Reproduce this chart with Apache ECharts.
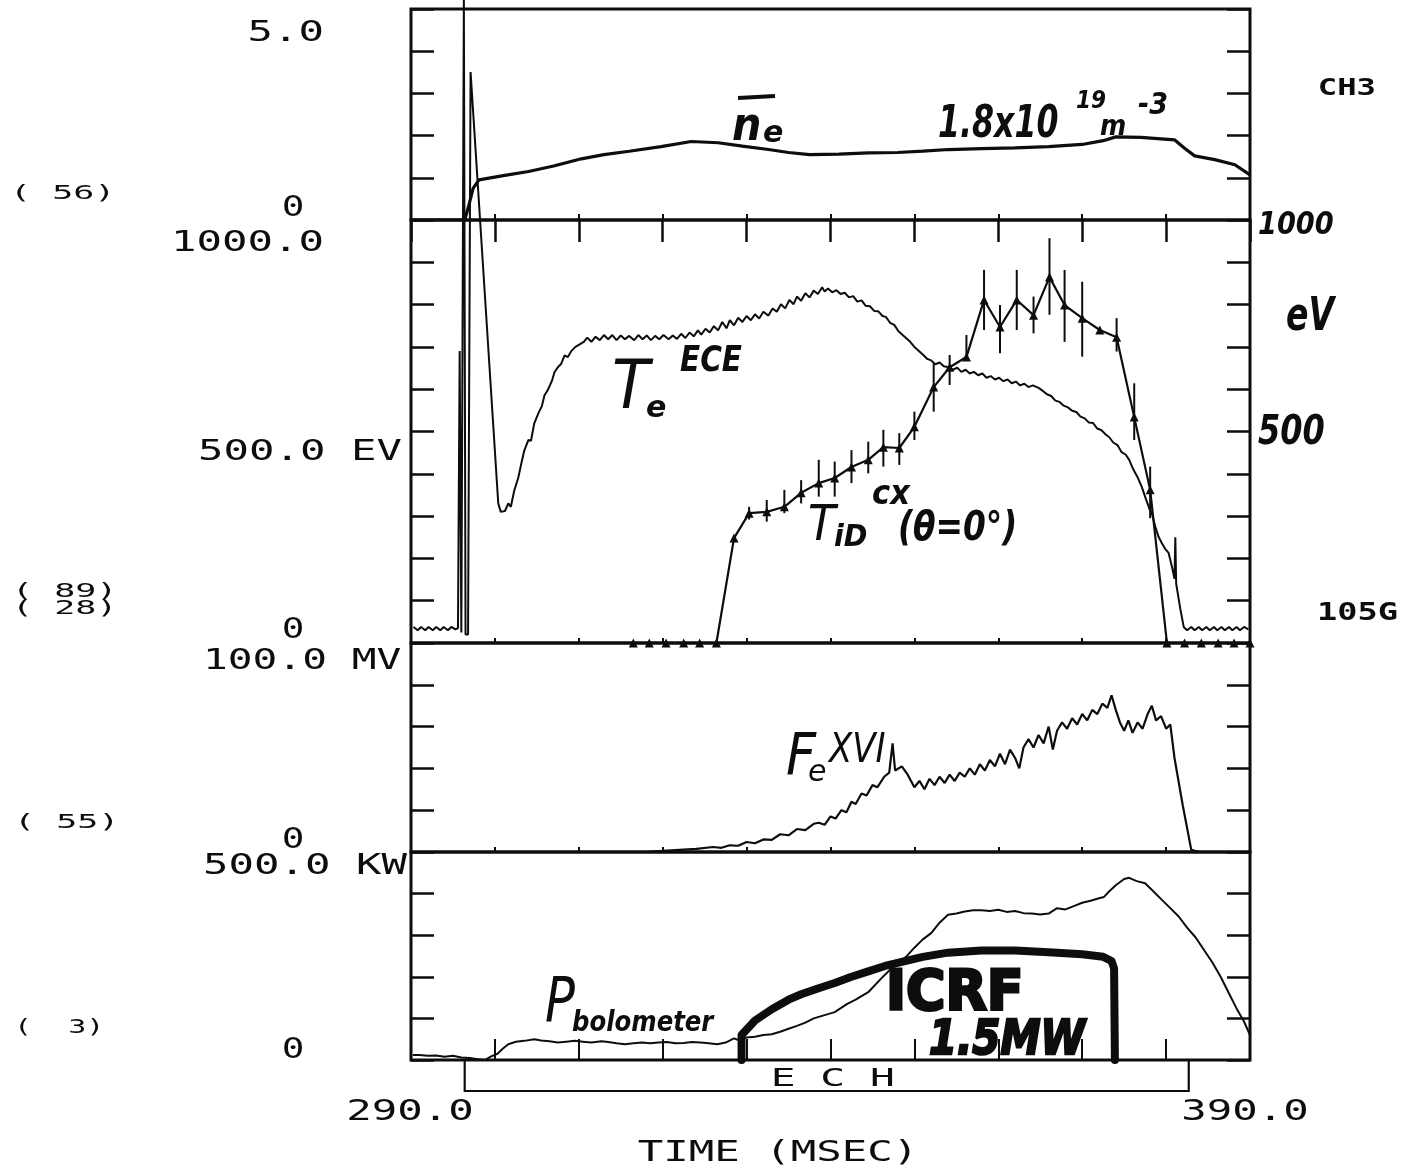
<!DOCTYPE html>
<html>
<head>
<meta charset="utf-8">
<script src="https://cdn.jsdelivr.net/npm/echarts/dist/echarts.min.js"></script>
<style>
  html, body { margin: 0; background: #fff; }
  #chart { width: 1407px; height: 1172px; }
</style>
</head>
<body>
<div id="chart"></div>
<script>
/* ── data (time in ms, values in panel units) ── */
const timeRange = [290, 390];

// panel 1: line-averaged density, 0..5
const neData = [[290,0],[296.4,0],[296.9,0.35],[297.4,0.75],[298.1,0.95],[301,1.05],[304,1.15],[307,1.28],
  [310.3,1.45],[313,1.55],[316,1.63],[319.8,1.74],[323.4,1.86],[326.6,1.83],[329.5,1.75],[332.6,1.67],
  [335,1.6],[337.5,1.55],[341,1.56],[344.5,1.59],[348,1.6],[351,1.63],[354.1,1.67],[358,1.69],[362,1.71],
  [366,1.74],[370,1.79],[372.5,1.88],[374,1.97],[377,1.96],[381,1.9],[382.2,1.7],[383.4,1.52],
  [385.8,1.43],[388.2,1.31],[390,1.07]];

// panel 2: Te (ECE), eV
const teEce = [[290.3,38],[290.8,30],[291.2,38],[291.7,30],[292.1,38],[292.6,30],[293.0,38],[293.5,30],
  [293.9,38],[294.4,30],[294.8,38],[295.3,32],[295.6,35],[295.8,690],[296.0,25],[296.3,1520],[296.5,20],
  [296.8,20],[297.1,1350],[300.4,330],[300.7,310],[301.2,312],[301.6,330],[301.9,322],[302.3,360],
  [302.8,392],[303.1,420],[303.5,455],[304.0,480],[304.3,478],[304.7,520],[305.2,544],[305.6,560],
  [305.9,585],[306.3,598],[306.8,620],[307.1,640],[307.5,652],[307.9,660],[308.3,680],[308.7,676],
  [309.1,690],[309.6,700],[310.1,706],[310.6,712],[311.0,722],[311.5,712],[312.0,724],[312.5,716],
  [313.0,728],[313.5,718],[314.0,728],[314.5,716],[315.0,727],[315.5,718],[316.0,726],[316.6,716],
  [317.1,728],[317.6,718],[318.1,727],[318.6,716],[319.1,726],[319.6,718],[320.1,728],[320.7,718],
  [321.2,727],[321.7,719],[322.2,731],[322.7,721],[323.2,734],[323.7,725],[324.2,739],[324.6,729],
  [325.1,743],[325.6,734],[326.1,749],[326.6,739],[327.1,759],[327.6,744],[328.0,763],[328.5,751],
  [329.0,769],[329.5,759],[330.0,773],[330.5,763],[331.0,777],[331.5,767],[332.0,783],[332.6,774],
  [333.1,791],[333.6,783],[334.1,801],[334.6,791],[335.1,811],[335.6,801],[336.0,819],[336.5,809],
  [337.0,827],[337.5,817],[338.0,833],[338.5,825],[339.0,841],[339.3,831],[339.7,838],[340.2,829],
  [340.7,834],[341.2,825],[341.7,828],[342.2,817],[342.7,820],[343.2,807],[343.7,810],[344.2,797],
  [344.7,796],[345.2,785],[345.7,784],[346.2,773],[346.6,771],[347.1,757],[347.6,752],[348.1,737],
  [348.5,730],[349.0,721],[349.5,712],[350.0,700],[350.5,691],[351.0,682],[351.5,672],[352.0,668],
  [352.5,659],[353.0,663],[353.5,654],[354.1,652],[354.6,646],[355.1,651],[355.6,641],[356.1,646],
  [356.6,637],[357.1,641],[357.6,633],[358.1,637],[358.6,627],[359.1,631],[359.6,623],[360.1,627],
  [360.6,619],[361.1,623],[361.6,614],[362.1,618],[362.6,609],[363.1,613],[363.6,605],[364.1,609],
  [364.8,603],[365.3,596],[365.8,588],[366.3,584],[366.8,573],[367.3,570],[367.8,561],[368.3,557],
  [368.8,549],[369.3,546],[369.8,535],[370.3,531],[370.8,521],[371.3,520],[371.8,507],[372.3,503],
  [372.8,493],[373.2,487],[373.7,474],[374.2,468],[374.7,451],[375.2,445],[375.6,433],[376.1,410],
  [376.6,392],[377.1,369],[377.6,340],[378.0,318],[378.3,307],[378.7,276],[379.1,251],[379.5,236],
  [379.9,222],[380.3,213],[380.7,180],[381.0,152],[381.1,250],[381.2,140],[381.7,80],[382.1,38],
  [382.5,30],[383.0,38],[383.4,30],[383.9,38],[384.3,30],[384.8,38],[385.2,30],[385.7,38],[386.1,30],
  [386.6,38],[387.0,30],[387.5,38],[387.9,30],[388.4,38],[388.8,30],[389.3,38],[389.8,32]];

// panel 2: Ti (charge exchange), eV, with error bars
const tiTime  = [316.5,318.4,320.4,322.5,324.4,326.4,328.5,330.3,332.4,334.5,336.5,338.6,340.5,342.5,
  344.5,346.3,348.2,350.0,352.3,354.2,356.2,358.3,360.2,362.2,364.2,366.1,367.9,370.0,372.1,374.1,
  376.2,378.1,380.1,382.2,384.2,386.2,388.1,390.0];
const tiValue = [0,0,0,0,0,0,248,307,310,322,355,378,390,416,433,463,461,511,605,652,676,811,747,811,
  775,865,799,768,740,723,534,362,0,0,0,0,0,0];
const tiLow   = [0,0,0,0,0,0,248,292,287,307,330,346,346,378,401,417,421,480,547,610,669,740,685,740,
  732,776,712,677,740,689,480,295,0,0,0,0,0,0];
const tiHigh  = [0,0,0,0,0,0,248,322,338,362,385,433,429,456,476,504,496,547,661,681,728,882,799,882,
  819,957,882,854,740,768,614,417,0,0,0,0,0,0];

// panel 3: Fe XVI, mV
const feData = [[290,0],[318,0],[320,0.5],[322,1],[324,1.5],[326,2.4],[327,2],[328,3.2],[329,3],
  [330,4.8],[331,4.2],[332,6],[333,5.8],[334,8.5],[335,8],[336,11],[337,10.5],[338,13.5],[338.6,14],
  [339.3,13],[340,17],[340.6,16],[341.3,20],[341.9,19],[342.5,24],[343,23],[343.7,28],[344.3,27],
  [345,32],[345.6,31],[346.4,36],[347,38],[347.4,52],[347.7,39],[348.5,41],[349.2,37],[350,31],
  [350.6,34],[351.2,30],[351.8,35],[352.4,32],[353,36],[353.6,33],[354.2,37],[354.8,34],[355.4,38],
  [356,36],[356.6,40],[357.2,37],[357.8,42],[358.4,39],[359,44],[359.6,41],[360.2,47],[360.8,42],
  [361.4,49],[362,45],[362.5,40],[363,50],[363.6,54],[364.2,50],[364.8,56],[365.4,52],[366,60],
  [366.5,49],[367,58],[367.6,62],[368.2,59],[368.8,64],[369.4,61],[370,66],[370.6,63],[371.2,68],
  [371.8,66],[372.4,71],[373,69],[373.5,75],[374,68],[374.5,62],[375,58],[375.5,63],[376,57],
  [376.6,62],[377.2,59],[377.8,66],[378.3,70],[378.8,63],[379.4,65],[380,59],[380.5,61],[381,45],
  [382,22],[383,1],[384,0],[390,0]];

// panel 4: bolometer power, kW
const pbolData = [[290.2,12],[291,12],[292,10],[293,11],[294,8],[295,10],[296,6],[297,5],[298,2],
  [298.8,0],[299.5,8],[300.3,15],[301,28],[301.6,38],[302.5,44],[303.5,46],[304.7,50],[305.5,47],
  [306.5,45],[307.5,42],[308.5,44],[309.5,46],[310.5,44],[311.5,42],[312.7,45],[313.5,43],[314.5,40],
  [315.5,38],[316.5,40],[317.5,42],[318.5,40],[319.5,42],[320.5,43],[321.5,40],[322.5,41],[323.5,43],
  [324.5,42],[325.5,40],[326.5,38],[327.5,42],[328.5,52],[329,48],[330,54],[331,56],[332,60],[333,62],
  [334,68],[335,75],[336,82],[337,90],[338,100],[339,106],[340.5,115],[342,135],[343,145],[344.5,163],
  [346,195],[347,215],[348,230],[349,248],[350,270],[351,290],[352,305],[353,330],[354,349],[355,352],
  [356,357],[357,360],[358,360],[359,358],[360,361],[361,356],[362,358],[363,353],[364,352],[365,350],
  [366,352],[367,365],[368,362],[369,370],[370,378],[371,383],[372,389],[372.6,392],[373.2,405],
  [374,420],[375,435],[375.6,438],[376.5,430],[377.5,425],[378.5,405],[379.5,385],[380.5,365],
  [381.5,345],[382.5,318],[383.5,295],[384.5,265],[385.5,235],[386.5,200],[387.5,160],[388.5,120],
  [389.3,92],[390,60]];

// panel 4: ICRF power (hand drawn trace), kW
const icrfData = [[329.4,0],[329.4,60],[331,95],[333,122],[335,145],[336.5,158],[338.5,172],
  [340.5,185],[342.5,200],[344.5,213],[346.5,226],[348.5,236],[351,248],[354,258],[358,263],
  [362,263],[366,259],[370,254],[372.5,248],[373.5,238],[373.8,220],[373.9,0]];

const echWindow = [296.4, 382.7];

// axis ranges per panel and labels
const panelMax  = [5, 1000, 100, 500];
const panelStep = [1, 100, 20, 100];
const topLabels = ['5.0', '1000.0', '100.0 MV', '500.0 KW'];
const midLabel = '500.0 EV';
const zeroLabel = '0';
const channelLabels = ['( 56)', '( 89)', '( 28)', '( 55)', '(  3)'];
const timeLabels = ['290.0', '390.0'];
const axisTitle = 'TIME (MSEC)';
const echLabel = 'E C H';

/* ── layout ── */
const PLOT_LEFT = 411, PLOT_W = 839;
const panels = [{ top: 9, height: 211 }, { top: 220, height: 423 }, { top: 643, height: 209 }, { top: 852, height: 208 }];
const INK = '#0d0d0d';
const MONO = '"DejaVu Sans Mono", monospace';

const chart = echarts.init(document.getElementById('chart'), null, { renderer: 'canvas' });

const grid = panels.map((p) => ({
  left: PLOT_LEFT, width: PLOT_W, top: p.top, height: p.height,
  show: true, borderColor: INK, borderWidth: 3, backgroundColor: 'transparent',
  containLabel: false, outerBoundsMode: 'none'
}));

const xBase = { type: 'value', min: timeRange[0], max: timeRange[1], interval: 10,
  axisLine: { show: false }, axisLabel: { show: false }, splitLine: { show: false } };
const xAxis = [
  { ...xBase, gridIndex: 0, axisTick: { inside: true, length: 6, lineStyle: { color: INK, width: 2 } } },
  { ...xBase, gridIndex: 0, position: 'top', axisTick: { inside: true, length: 22, lineStyle: { color: INK, width: 2.5 } } },
  { ...xBase, gridIndex: 1, axisTick: { inside: true, length: 5, lineStyle: { color: INK, width: 2 } } },
  { ...xBase, gridIndex: 2, axisTick: { inside: true, length: 5, lineStyle: { color: INK, width: 2 } } },
  { ...xBase, gridIndex: 3, axisTick: { inside: true, length: 21, lineStyle: { color: INK, width: 2 } } }
];

const yAxis = [];
panels.forEach((p, i) => {
  ['left', 'right'].forEach((pos) => yAxis.push({
    type: 'value', gridIndex: i, position: pos, min: 0, max: panelMax[i], interval: panelStep[i],
    axisLine: { show: false }, axisLabel: { show: false }, splitLine: { show: false },
    axisTick: { inside: true, length: 23, lineStyle: { color: INK, width: 2.5 } }
  }));
});

const plainLine = (data, xi, yi, width, extra) => ({
  type: 'line', data, xAxisIndex: xi, yAxisIndex: yi, showSymbol: false, symbol: 'none',
  animation: false, lineStyle: { color: INK, width }, ...extra
});

const series = [
  plainLine(neData, 0, 0, 3.2),
  plainLine(teEce, 2, 2, 2, { clip: false }),
  {
    type: 'line', xAxisIndex: 2, yAxisIndex: 2, animation: false,
    data: tiTime.map((t, i) => [t, tiValue[i]]),
    symbol: 'triangle', symbolSize: 9, showSymbol: true,
    itemStyle: { color: INK }, lineStyle: { color: INK, width: 2.2 }
  },
  {
    type: 'custom', xAxisIndex: 2, yAxisIndex: 2, animation: false,
    data: tiTime.map((t, i) => [t, tiLow[i], tiHigh[i]]),
    encode: { x: 0, y: [1, 2] },
    renderItem: (params, api) => {
      const a = api.coord([api.value(0), api.value(1)]);
      const b = api.coord([api.value(0), api.value(2)]);
      return { type: 'line', shape: { x1: a[0], y1: a[1], x2: b[0], y2: b[1] }, style: { stroke: INK, lineWidth: 2 } };
    }
  },
  plainLine(feData, 3, 4, 2.2),
  plainLine(pbolData, 4, 6, 2),
  plainLine(icrfData, 4, 6, 8, { lineStyle: { color: INK, width: 8, join: 'round', cap: 'round' } }),
  {
    type: 'custom', xAxisIndex: 4, yAxisIndex: 6, clip: false, animation: false,
    data: [echWindow], encode: { x: [0, 1] },
    renderItem: (params, api) => {
      const a = api.coord([api.value(0), 0]);
      const b = api.coord([api.value(1), 0]);
      return {
        type: 'group', children: [
          { type: 'polyline', shape: { points: [[a[0], a[1]], [a[0], a[1] + 31], [b[0], b[1] + 31], [b[0], b[1]]] },
            style: { stroke: INK, lineWidth: 2.2, fill: null } },
          { type: 'text', x: (a[0] + b[0]) / 2 + 6, y: a[1] + 19, scaleX: 1.65,
            style: { text: echLabel, font: '25px ' + MONO, fill: INK, align: 'center', verticalAlign: 'middle' } }
        ]
      };
    }
  }
];

/* ── texts ── */
function txt(text, x, y, font, align, sx, heavy) {
  const style = { text, font, fill: INK, align: align || 'left', verticalAlign: 'middle',
                  textAlign: align || 'left', textVerticalAlign: 'middle' };
  if (heavy) { style.stroke = INK; style.lineWidth = heavy; }
  return { type: 'text', x, y, scaleX: sx || 1, z: 10, style };
}
const plotFont = '29px ' + MONO, smallFont = '20px ' + MONO;
const hand = (w, s) => `italic ${w} ${s}px "DejaVu Sans"`;

const graphic = [
  // left scale labels
  txt(topLabels[0], 324, 33, plotFont, 'right', 1.46),
  txt(topLabels[1], 324, 243, plotFont, 'right', 1.46),
  txt(midLabel, 198, 452, plotFont, 'left', 1.46),
  txt(topLabels[2], 203, 661, plotFont, 'left', 1.42),
  txt(topLabels[3], 203, 866, plotFont, 'left', 1.46),
  txt(zeroLabel, 293, 208, plotFont, 'center', 1.3),
  txt(zeroLabel, 293, 630, plotFont, 'center', 1.3),
  txt(zeroLabel, 293, 840, plotFont, 'center', 1.3),
  txt(zeroLabel, 293, 1050, plotFont, 'center', 1.3),
  // channel numbers
  txt(channelLabels[0], 10, 194, smallFont, 'left', 1.75),
  txt(channelLabels[1], 12, 592, smallFont, 'left', 1.75),
  txt(channelLabels[2], 12, 609, smallFont, 'left', 1.75),
  txt(channelLabels[3], 14, 823, smallFont, 'left', 1.75),
  txt(channelLabels[4], 14, 1028, smallFont, 'left', 1.5),
  // right side
  txt('CH3', 1376, 89, 'bold 23px ' + MONO, 'right', 1.4),
  txt('105G', 1317, 614, 'bold 24px ' + MONO, 'left', 1.4),
  txt('1000', 1258, 226, hand('bold', 32), 'left', 0.85),
  txt('eV', 1286, 318, hand('bold', 46), 'left', 0.72),
  txt('500', 1258, 434, hand('bold', 40), 'left', 0.8),
  // time axis
  txt(timeLabels[0], 410, 1112, plotFont, 'center', 1.46),
  txt(timeLabels[1], 1245, 1112, plotFont, 'center', 1.46),
  txt(axisTitle, 778, 1153, plotFont, 'center', 1.46),
  // hand-written annotations
  txt('n', 732, 128, hand('bold', 46), 'left', 0.9),
  txt('e', 763, 134, hand('bold', 30), 'left'),
  { type: 'line', z: 10, shape: { x1: 738, y1: 98, x2: 775, y2: 96 }, style: { stroke: INK, lineWidth: 4 } },
  txt('1.8x10', 938, 126, hand('bold', 44), 'left', 0.72),
  txt('19', 1076, 102, hand('bold', 24), 'left', 0.9),
  txt('m', 1100, 128, hand('bold', 28), 'left', 0.9),
  txt('-3', 1138, 106, hand('bold', 30), 'left', 0.9),
  txt('T', 612, 390, hand('normal', 68), 'left', 0.9),
  txt('e', 646, 409, hand('bold', 30), 'left'),
  txt('ECE', 680, 362, hand('bold', 36), 'left', 0.82),
  txt('T', 808, 527, hand('normal', 50), 'left', 0.9),
  txt('iD', 834, 538, hand('bold', 30), 'left', 0.95),
  txt('cx', 872, 495, hand('bold', 34), 'left', 0.9),
  txt('(θ=0°)', 898, 530, hand('bold', 40), 'left', 0.82),
  txt('F', 786, 760, hand('normal', 58), 'left', 0.9),
  txt('e', 808, 773, hand('normal', 30), 'left'),
  txt('XVI', 829, 752, hand('normal', 40), 'left', 0.85),
  txt('P', 545, 1005, hand('normal', 62), 'left', 0.8),
  txt('bolometer', 572, 1024, hand('bold', 28), 'left', 0.87),
  txt('ICRF', 886, 994, 'bold 56px "DejaVu Sans"', 'left', 0.96, 3),
  txt('1.5MW', 929, 1042, hand('bold', 48), 'left', 0.84, 2.5)
];

chart.setOption({
  backgroundColor: '#fff',
  animation: false,
  grid, xAxis, yAxis, series, graphic
});
</script>
</body>
</html>
